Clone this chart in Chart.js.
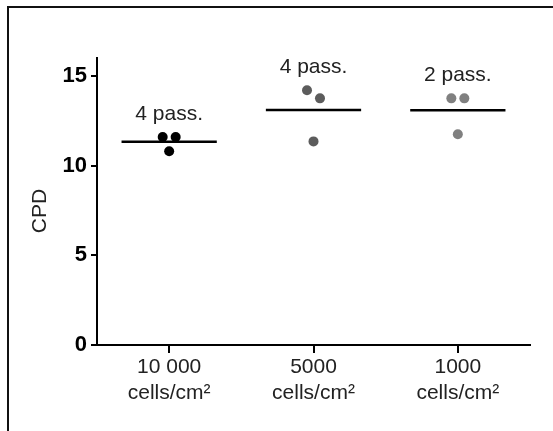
<!DOCTYPE html>
<html>
<head>
<meta charset="utf-8">
<script src="https://cdn.jsdelivr.net/npm/chart.js@4.4.1/dist/chart.umd.min.js"></script>
<style>
  html, body { margin: 0; padding: 0; background: #fff; }
  #wrap { position: relative; width: 553px; height: 431px; overflow: hidden; }
  #frame { position: absolute; left: 7px; top: 6px; right: -10px; bottom: -10px;
           border-top: 2px solid #111; border-left: 2px solid #111; }
  canvas { position: absolute; left: 0; top: 0; }
</style>
</head>
<body>
<div id="wrap">
  <div id="frame"></div>
  <canvas id="chart" width="553" height="431"></canvas>
</div>
<script>
// data
const densities = ['10 000', '5000', '1000'];
const unitLabel = 'cells/cm²';
const passages = ['4 pass.', '4 pass.', '2 pass.'];
const cpd10000 = [11.6, 11.6, 10.8];
const cpd5000 = [14.2, 13.75, 11.35];
const cpd1000 = [13.75, 13.75, 11.75];
const jitter = [-0.045, 0.045, 0];
const yTicks = [0, 5, 10, 15];

const groups = [cpd10000, cpd5000, cpd1000];
const groupColors = ['#000000', '#5c5c5c', '#808080'];
const FONT = '"Liberation Sans", Arial, sans-serif';

function mean(arr) {
    return arr.reduce((a, b) => a + b, 0) / arr.length;
}

const datasets = [];
groups.forEach((vals, i) => {
    const m = mean(vals);
    datasets.push({
        type: 'line',
        data: [{ x: i - 0.33, y: m }, { x: i + 0.33, y: m }],
        borderColor: '#000',
        borderWidth: 2.5,
        pointRadius: 0,
        showLine: true
    });
    datasets.push({
        data: vals.map((v, j) => ({ x: i + jitter[j], y: v })),
        backgroundColor: groupColors[i],
        borderWidth: 0,
        pointRadius: 5,
        pointHoverRadius: 5
    });
});

// text that is not part of an axis: y title and passage counts
const textPlugin = {
    id: 'extraText',
    afterDatasetsDraw(chart) {
        const ctx = chart.ctx;
        const xs = chart.scales.x, ys = chart.scales.y;
        ctx.save();
        ctx.fillStyle = '#222';
        ctx.font = '21px ' + FONT;
        ctx.textAlign = 'center';
        ctx.textBaseline = 'alphabetic';
        groups.forEach((vals, i) => {
            const top = Math.max(...vals);
            ctx.fillText(passages[i], xs.getPixelForValue(i), ys.getPixelForValue(top + 0.95));
        });
        ctx.font = '21px ' + FONT;
        ctx.translate(40, 211);
        ctx.rotate(-Math.PI / 2);
        ctx.textBaseline = 'middle';
        ctx.fillText('CPD', 0, 0);
        ctx.restore();
    }
};

new Chart(document.getElementById('chart'), {
    type: 'scatter',
    data: { datasets: datasets },
    plugins: [textPlugin],
    options: {
        responsive: false,
        animation: false,
        layout: { padding: { top: 58, right: 23, left: 0, bottom: 0 } },
        plugins: { legend: { display: false }, tooltip: { enabled: false } },
        scales: {
            x: {
                type: 'linear',
                min: -0.5,
                max: 2.5,
                afterBuildTicks: s => { s.ticks = [0, 1, 2].map(v => ({ value: v })); },
                afterFit: s => { s.height = 86; },
                ticks: {
                    callback: (v, idx) => [densities[idx], unitLabel],
                    font: { family: FONT, size: 21, lineHeight: 1.24 },
                    color: '#222',
                    padding: 1,
                    maxRotation: 0,
                    autoSkip: false
                },
                grid: { drawOnChartArea: false, drawTicks: true, tickLength: 8, color: '#000', lineWidth: 2 },
                border: { display: true, color: '#000', width: 2 }
            },
            y: {
                min: 0,
                max: 16,
                afterBuildTicks: s => { s.ticks = yTicks.map(v => ({ value: v })); },
                afterFit: s => { s.width = 97; },
                ticks: {
                    font: { family: FONT, size: 22, weight: 'bold' },
                    color: '#000',
                    padding: 4
                },
                grid: { drawOnChartArea: false, drawTicks: true, tickLength: 6, color: '#000', lineWidth: 2 },
                border: { display: true, color: '#000', width: 2 }
            }
        }
    }
});
</script>
</body>
</html>
